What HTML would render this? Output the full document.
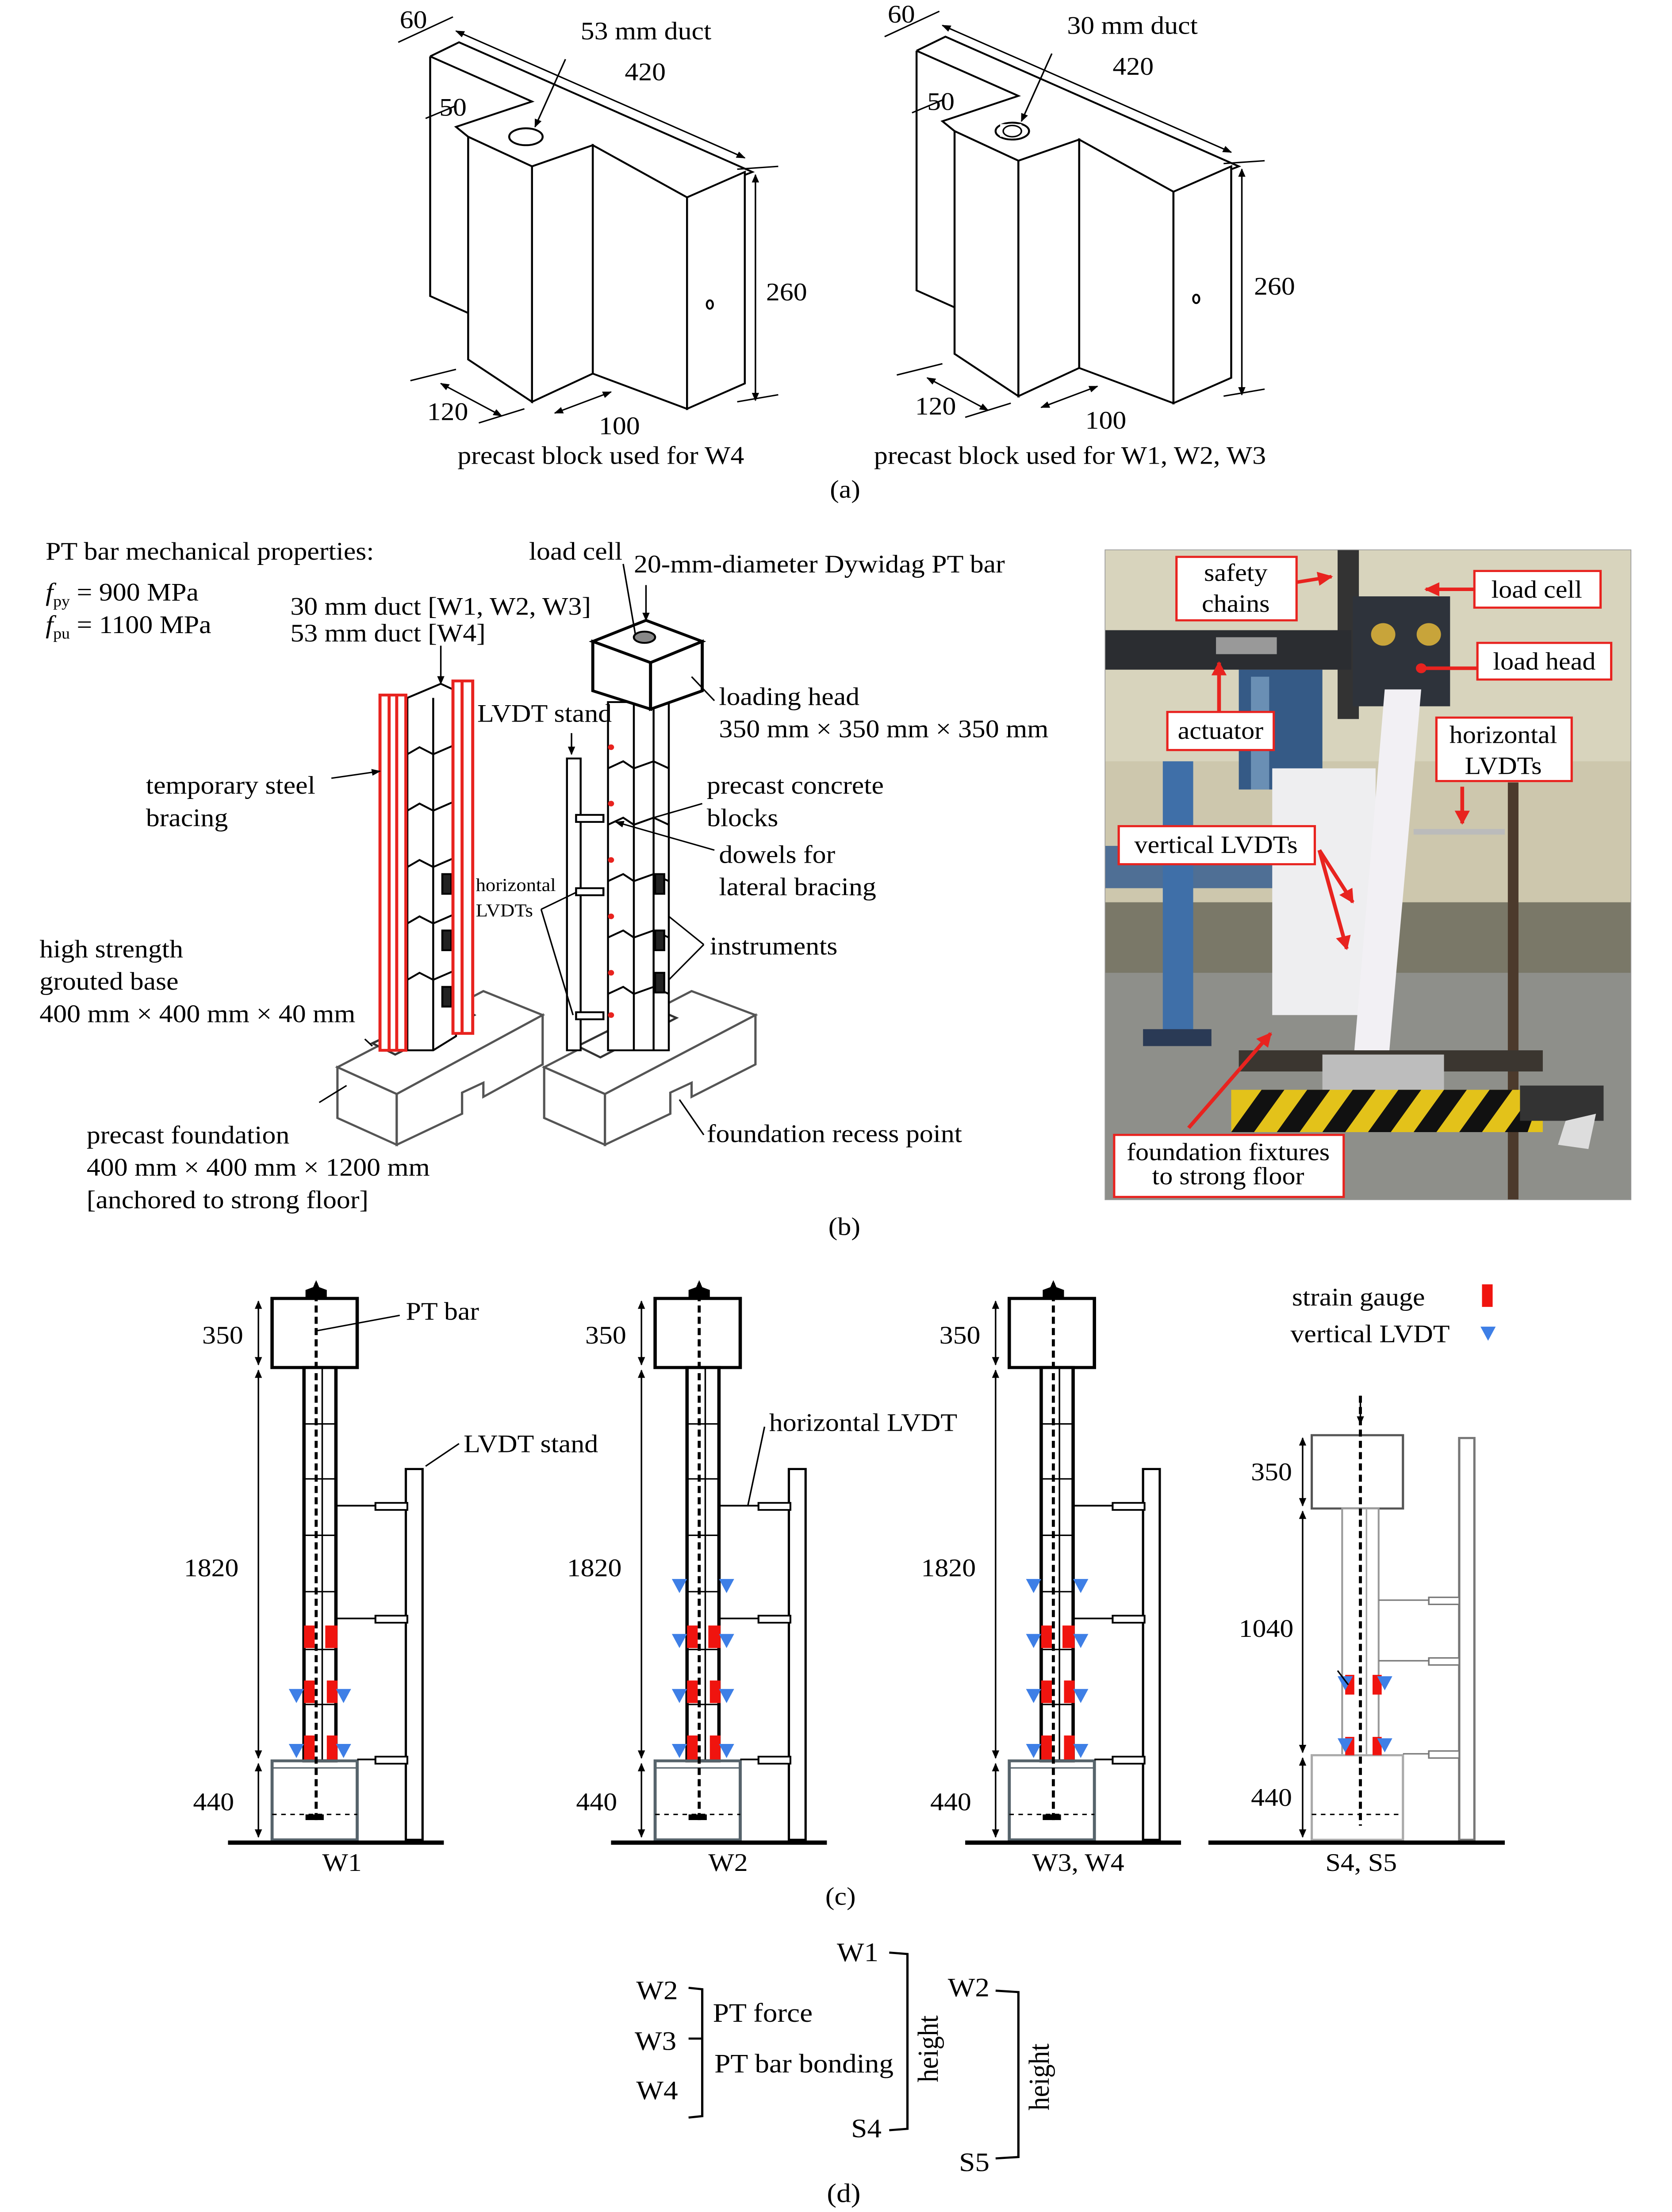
<!DOCTYPE html>
<html><head><meta charset="utf-8"><style>
html,body{margin:0;padding:0;background:#fff;width:100%;height:100%;overflow:hidden;}
svg.main{display:block;position:absolute;left:0;top:0;width:100vw;height:100vh;}
text{font-family:"Liberation Serif",serif;fill:#000;}
</style></head><body>
<svg class="main" viewBox="0 0 1100 1569" preserveAspectRatio="none" xmlns="http://www.w3.org/2000/svg">
<defs>
<marker id="ar" viewBox="0 0 10 10" refX="9" refY="5" markerWidth="6" markerHeight="6" orient="auto-start-reverse"><path d="M0,1 L10,5 L0,9 z" fill="#000"/></marker>
<marker id="rr" viewBox="0 0 10 10" refX="9" refY="5" markerWidth="4" markerHeight="4" orient="auto-start-reverse"><path d="M0,0 L10,5 L0,10 z" fill="#e8231f"/></marker>
</defs>
<rect width="1100" height="1569" fill="#fff"/>

<!-- ===== (a) ===== -->
<g id="blk" fill="none" stroke="#000" stroke-width="1.3">
<polyline points="283,40 302,30 495,122 452,140"/>
<polyline points="283,40 283,210 308,222"/>
<polyline points="283,40 350,72 300,90 308,97 350,118 390,103 452,140"/>
<polygon points="308,97 350,118 350,285 308,255" fill="#fff"/>
<polygon points="350,118 390,103 390,265 350,285" fill="#fff"/>
<polygon points="390,103 452,140 452,290 390,265" fill="#fff"/>
<polygon points="452,140 490,122 490,272 452,290" fill="#fff"/>
<ellipse cx="346" cy="97" rx="11" ry="6"/>
<ellipse cx="467" cy="216" rx="2" ry="3"/>
<line x1="300" y1="22" x2="490" y2="112" marker-start="url(#ar)" marker-end="url(#ar)" stroke-width="1"/>
<line x1="262" y1="30" x2="298" y2="12" stroke-width="1"/>
<line x1="280" y1="84" x2="300" y2="75" stroke-width="1"/>
<line x1="497" y1="124" x2="497" y2="284" marker-start="url(#ar)" marker-end="url(#ar)" stroke-width="1"/>
<line x1="485" y1="120" x2="512" y2="118" stroke-width="1"/>
<line x1="485" y1="285" x2="512" y2="280" stroke-width="1"/>
<line x1="270" y1="270" x2="300" y2="262" stroke-width="1"/>
<line x1="290" y1="272" x2="330" y2="295" marker-start="url(#ar)" marker-end="url(#ar)" stroke-width="1"/>
<line x1="315" y1="300" x2="345" y2="290" stroke-width="1"/>
<line x1="365" y1="293" x2="402" y2="278" marker-start="url(#ar)" marker-end="url(#ar)" stroke-width="1"/>
<line x1="372" y1="42" x2="352" y2="90" marker-end="url(#ar)" stroke-width="1"/>
</g>
<use href="#blk" transform="translate(320,-4)"/>
<rect x="658" y="88" width="14" height="9" fill="#fff"/>
<ellipse cx="666" cy="93" rx="6" ry="4" fill="none" stroke="#000"/>
<g font-size="18">
<text x="263" y="20">60</text><text x="382" y="28">53 mm duct</text><text x="411" y="57">420</text>
<text x="289" y="82">50</text><text x="504" y="213">260</text><text x="281" y="298">120</text><text x="394" y="308">100</text>
<text x="301" y="329">precast block used for W4</text>
<text x="584" y="16">60</text><text x="702" y="24">30 mm duct</text><text x="732" y="53">420</text>
<text x="610" y="78">50</text><text x="825" y="209">260</text><text x="602" y="294">120</text><text x="714" y="304">100</text>
<text x="575" y="329">precast block used for W1, W2, W3</text>
<text x="546" y="353">(a)</text>
</g>

<!-- ===== (b) drawing ===== -->
<g fill="#fff" stroke="#555" stroke-width="1.5">
<polygon points="222,757 318,703 357,720 261,776"/>
<polygon points="222,757 261,776 261,812 222,793"/>
<polygon points="261,776 357,720 357,755 318,778 318,768 304,775 304,790 261,812"/>
<polygon points="358,757 455,703 497,720 398,776"/>
<polygon points="358,757 398,776 398,812 358,793"/>
<polygon points="398,776 497,720 497,755 455,778 455,768 441,775 441,790 398,812"/>
<polygon points="245,740 300,712 312,720 260,748" stroke="#333"/>
<polygon points="380,742 430,715 445,722 395,750" stroke="#333"/>
</g>
<g stroke="#000" stroke-width="1.3" fill="#fff">
<polygon points="268,495 290,485 300,490 300,735 285,745 268,745"/>
<line x1="285" y1="495" x2="285" y2="745"/>
<polyline fill="none" points="268,535 276,530 285,535 300,528"/>
<polyline fill="none" points="268,575 276,570 285,575 300,568"/>
<polyline fill="none" points="268,615 276,610 285,615 300,608"/>
<polyline fill="none" points="268,655 276,650 285,655 300,648"/>
<polyline fill="none" points="268,695 276,690 285,695 300,688"/>
<rect x="291" y="620" width="6" height="14" fill="#222"/>
<rect x="291" y="660" width="6" height="14" fill="#222"/>
<rect x="291" y="700" width="6" height="14" fill="#222"/>
</g>
<g stroke="#e8231f" stroke-width="2" fill="#fff">
<rect x="250" y="493" width="17" height="252"/>
<line x1="256" y1="493" x2="256" y2="745"/><line x1="261" y1="493" x2="261" y2="745"/>
<rect x="298" y="483" width="13" height="250"/>
<line x1="304" y1="483" x2="304" y2="733"/>
</g>
<g stroke="#000" stroke-width="1.3" fill="#fff">
<rect x="400" y="498" width="40" height="247"/>
<line x1="417" y1="498" x2="417" y2="745"/><line x1="430" y1="498" x2="430" y2="745"/>
<polyline fill="none" points="400,545 410,540 417,545 430,540 440,545"/>
<polyline fill="none" points="400,585 410,580 417,585 430,580 440,585"/>
<polyline fill="none" points="400,625 410,620 417,625 430,620 440,625"/>
<polyline fill="none" points="400,665 410,660 417,665 430,660 440,665"/>
<polyline fill="none" points="400,705 410,700 417,705 430,700 440,705"/>
<polygon points="390,455 425,440 462,455 428,470" stroke-width="2"/>
<polygon points="390,455 428,470 428,503 390,490" stroke-width="2"/>
<polygon points="428,470 462,455 462,490 428,503" stroke-width="2"/>
<ellipse cx="424" cy="452" rx="7" ry="4" fill="#888"/>
<rect x="373" y="538" width="9" height="207"/>
<rect x="379" y="578" width="18" height="5"/><rect x="379" y="630" width="18" height="5"/><rect x="379" y="718" width="18" height="5"/>
<rect x="431" y="620" width="6" height="14" fill="#222"/><rect x="431" y="660" width="6" height="14" fill="#222"/><rect x="431" y="690" width="6" height="14" fill="#222"/>
</g>
<g fill="#e8231f"><circle cx="402" cy="530" r="2"/><circle cx="402" cy="570" r="2"/><circle cx="402" cy="610" r="2"/><circle cx="402" cy="650" r="2"/><circle cx="402" cy="690" r="2"/><circle cx="402" cy="720" r="2"/></g>
<g stroke="#000" stroke-width="1" fill="none">
<line x1="218" y1="552" x2="250" y2="547" marker-end="url(#ar)"/>
<line x1="290" y1="458" x2="290" y2="485" marker-end="url(#ar)"/>
<line x1="410" y1="400" x2="418" y2="450"/>
<line x1="425" y1="415" x2="425" y2="440" marker-end="url(#ar)"/>
<line x1="376" y1="520" x2="376" y2="535" marker-end="url(#ar)"/>
<line x1="470" y1="497" x2="455" y2="480"/>
<line x1="462" y1="570" x2="430" y2="580"/>
<line x1="470" y1="603" x2="405" y2="583" marker-end="url(#ar)"/>
<polyline points="463,670 440,650"/><polyline points="463,670 440,695"/>
<polyline points="356,645 379,633"/><polyline points="356,645 377,720"/>
<line x1="240" y1="737" x2="245" y2="742"/>
<line x1="210" y1="782" x2="228" y2="770"/>
<line x1="463" y1="805" x2="447" y2="780"/>
</g>
<g font-size="18">
<text x="30" y="397">PT bar mechanical properties:</text>
<text x="30" y="426"><tspan font-style="italic">f</tspan><tspan font-size="11" dy="4">py</tspan><tspan dy="-4"> = 900 MPa</tspan></text>
<text x="30" y="449"><tspan font-style="italic">f</tspan><tspan font-size="11" dy="4">pu</tspan><tspan dy="-4"> = 1100 MPa</tspan></text>
<text x="191" y="436">30 mm duct [W1, W2, W3]</text><text x="191" y="455">53 mm duct [W4]</text>
<text x="348" y="397">load cell</text><text x="417" y="406">20-mm-diameter Dywidag PT bar</text>
<text x="314" y="512">LVDT stand</text>
<text x="473" y="500">loading head</text><text x="473" y="523">350 mm × 350 mm × 350 mm</text>
<text x="96" y="563">temporary steel</text><text x="96" y="586">bracing</text>
<text x="465" y="563">precast concrete</text><text x="465" y="586">blocks</text>
<text x="473" y="612">dowels for</text><text x="473" y="635">lateral bracing</text>
<text x="467" y="677">instruments</text>
<text x="26" y="679">high strength</text><text x="26" y="702">grouted base</text><text x="26" y="725">400 mm × 400 mm × 40 mm</text>
<text x="57" y="811">precast foundation</text><text x="57" y="834">400 mm × 400 mm × 1200 mm</text><text x="57" y="857">[anchored to strong floor]</text>
<text x="465" y="810">foundation recess point</text>
<text x="545" y="876">(b)</text>
</g>
<text x="313" y="632" font-size="13">horizontal</text><text x="313" y="650" font-size="13">LVDTs</text>

<!-- ===== photo ===== -->
<svg x="727" y="390" width="346" height="461" viewBox="727 390 346 461">
<rect x="727" y="390" width="346" height="461" fill="#cdc7ad"/>
<rect x="727" y="390" width="346" height="150" fill="#d8d4bd"/>
<rect x="727" y="686" width="346" height="165" fill="#8e8f8a"/>
<rect x="727" y="640" width="346" height="50" fill="#7a7868"/>
<rect x="727" y="600" width="120" height="30" fill="#4f6f95"/>
<rect x="765" y="540" width="20" height="194" fill="#3f6fa8"/>
<rect x="752" y="730" width="45" height="12" fill="#2a3a55"/>
<rect x="815" y="475" width="55" height="85" fill="#355a86"/>
<rect x="823" y="480" width="12" height="80" fill="#6a8fb4"/>
<rect x="880" y="390" width="14" height="120" fill="#333"/>
<rect x="727" y="447" width="162" height="28" fill="#2b2d31"/>
<rect x="800" y="452" width="40" height="12" fill="#999"/>
<polygon points="890,423 954,423 954,501 890,501" fill="#2e333b"/>
<circle cx="910" cy="450" r="8" fill="#c8a43a"/><circle cx="940" cy="450" r="8" fill="#c8a43a"/>
<rect x="837" y="545" width="68" height="175" fill="#eeeef0"/>
<rect x="992" y="555" width="7" height="296" fill="#4c3a2c"/>
<polygon points="911,489 935,489 913,758 890,758" fill="#f2f0f4"/>
<rect x="930" y="588" width="60" height="4" fill="#bbb"/>
<rect x="815" y="745" width="200" height="15" fill="#3b3630"/>
<rect x="870" y="748" width="80" height="40" fill="#bdbdbd"/>
<polygon points="810,773 1015,773 1015,803 810,803" fill="#e3c21a"/>
<g fill="#111"><polygon points="830,773 845,773 825,803 810,803"/><polygon points="860,773 875,773 855,803 840,803"/><polygon points="890,773 905,773 885,803 870,803"/><polygon points="920,773 935,773 915,803 900,803"/><polygon points="950,773 965,773 945,803 930,803"/><polygon points="980,773 995,773 975,803 960,803"/><polygon points="1010,773 1015,773 1005,803 990,803"/></g>
<rect x="1000" y="770" width="55" height="25" fill="#333"/>
<polygon points="1030,795 1050,790 1045,815 1025,812" fill="#ddd"/>
</svg>
<rect x="727" y="390" width="346" height="461" fill="none" stroke="#999" stroke-width="0.5"/>
<g fill="#fff" stroke="#e8231f" stroke-width="1.5">
<rect x="774" y="395" width="79" height="45"/><rect x="970" y="405" width="83" height="26"/>
<rect x="972" y="456" width="88" height="26"/><rect x="768" y="505" width="70" height="27"/>
<rect x="945" y="509" width="89" height="45"/><rect x="736" y="586" width="129" height="27"/>
<rect x="733" y="805" width="151" height="44"/>
</g>
<g stroke="#e8231f" stroke-width="2.5" fill="none">
<line x1="853" y1="413" x2="876" y2="409" marker-end="url(#rr)"/>
<line x1="970" y1="418" x2="938" y2="418" marker-end="url(#rr)"/>
<line x1="972" y1="474" x2="937" y2="474"/>
<line x1="802" y1="505" x2="802" y2="470" marker-end="url(#rr)"/>
<line x1="962" y1="558" x2="962" y2="584" marker-end="url(#rr)"/>
<line x1="868" y1="603" x2="890" y2="640" marker-end="url(#rr)"/>
<line x1="868" y1="603" x2="886" y2="673" marker-end="url(#rr)"/>
<line x1="782" y1="800" x2="836" y2="733" marker-end="url(#rr)"/>
</g>
<circle cx="935" cy="474" r="3.5" fill="#e8231f"/>
<g font-size="17.5" text-anchor="middle">
<text x="813" y="412">safety</text><text x="813" y="434">chains</text>
<text x="1011" y="424">load cell</text><text x="1016" y="475">load head</text>
<text x="803" y="524">actuator</text>
<text x="989" y="527">horizontal</text><text x="989" y="549">LVDTs</text>
<text x="800" y="605">vertical LVDTs</text>
<text x="808" y="823">foundation fixtures</text><text x="808" y="840">to strong floor</text>
</g>

<!-- ===== (c) ===== -->
<g id="w1">
<g fill="none" stroke="#000" stroke-width="2.2">
<rect x="179" y="921" width="56" height="49" fill="#fff"/>
<rect x="200" y="970" width="21" height="279" fill="#fff"/>
</g>
<g stroke="#000" stroke-width="1" fill="none">
<line x1="212" y1="970" x2="212" y2="1249"/>
<line x1="200" y1="1010" x2="221" y2="1010"/><line x1="200" y1="1049" x2="221" y2="1049"/><line x1="200" y1="1089" x2="221" y2="1089"/>
<line x1="200" y1="1129" x2="221" y2="1129"/><line x1="200" y1="1170" x2="221" y2="1170"/><line x1="200" y1="1209" x2="221" y2="1209"/>
</g>
<rect x="179" y="1249" width="56" height="56" fill="none" stroke="#56636b" stroke-width="2"/>
<line x1="179" y1="1254" x2="235" y2="1254" stroke="#56636b"/>
<line x1="179" y1="1287" x2="235" y2="1287" stroke="#000" stroke-dasharray="3,3"/>
<rect x="201" y="1287" width="12" height="4" fill="#000"/>
<polygon points="201,921 215,921 215,915 210,913 208,908 206,913 201,915" fill="#000"/>
<line x1="208" y1="910" x2="208" y2="1292" stroke="#000" stroke-width="2" stroke-dasharray="5,3"/>
<rect x="267" y="1042" width="11" height="263" fill="#fff" stroke="#000" stroke-width="1.5"/>
<g stroke="#000" stroke-width="1.2" fill="#fff">
<line x1="221" y1="1068" x2="247" y2="1068"/><rect x="247" y="1066" width="21" height="5"/>
<line x1="221" y1="1148" x2="247" y2="1148"/><rect x="247" y="1146" width="21" height="5"/>
<line x1="235" y1="1248" x2="247" y2="1248"/><rect x="247" y="1246" width="21" height="5"/>
</g>
<g fill="#f0140f">
<rect x="200" y="1153" width="7" height="16"/><rect x="214" y="1153" width="8" height="16"/>
<rect x="200" y="1192" width="7" height="16"/><rect x="215" y="1192" width="7" height="16"/>
<rect x="200" y="1231" width="7" height="17"/><rect x="215" y="1231" width="7" height="17"/>
</g>
<g stroke="#000" stroke-width="1" fill="none">
<line x1="170" y1="923" x2="170" y2="968" marker-start="url(#ar)" marker-end="url(#ar)"/>
<line x1="170" y1="972" x2="170" y2="1247" marker-start="url(#ar)" marker-end="url(#ar)"/>
<line x1="170" y1="1251" x2="170" y2="1303" marker-start="url(#ar)" marker-end="url(#ar)"/>
</g>
<line x1="150" y1="1307" x2="292" y2="1307" stroke="#000" stroke-width="3"/>
<text x="133" y="953" font-size="18">350</text><text x="121" y="1118" font-size="18">1820</text><text x="127" y="1284" font-size="18">440</text>
</g>
<g fill="#3e7fe6">
<polygon points="190,1198 200,1198 195,1208"/><polygon points="221,1198 231,1198 226,1208"/>
<polygon points="190,1237 200,1237 195,1247"/><polygon points="221,1237 231,1237 226,1247"/>
</g>
<use href="#w1" transform="translate(252,0)"/>
<use href="#w1" transform="translate(485,0)"/>
<g fill="#3e7fe6">
<polygon points="442,1120 452,1120 447,1130"/><polygon points="473,1120 483,1120 478,1130"/>
<polygon points="442,1159 452,1159 447,1169"/><polygon points="473,1159 483,1159 478,1169"/>
<polygon points="442,1198 452,1198 447,1208"/><polygon points="473,1198 483,1198 478,1208"/>
<polygon points="442,1237 452,1237 447,1247"/><polygon points="473,1237 483,1237 478,1247"/>
<polygon points="675,1120 685,1120 680,1130"/><polygon points="706,1120 716,1120 711,1130"/>
<polygon points="675,1159 685,1159 680,1169"/><polygon points="706,1159 716,1159 711,1169"/>
<polygon points="675,1198 685,1198 680,1208"/><polygon points="706,1198 716,1198 711,1208"/>
<polygon points="675,1237 685,1237 680,1247"/><polygon points="706,1237 716,1237 711,1247"/>
</g>
<g>
<rect x="863" y="1018" width="60" height="52" fill="#fff" stroke="#555" stroke-width="1.5"/>
<rect x="883" y="1070" width="24" height="175" fill="#fff" stroke="#999" stroke-width="1.2"/>
<line x1="899" y1="1070" x2="899" y2="1245" stroke="#aaa"/>
<rect x="863" y="1245" width="60" height="60" fill="none" stroke="#aaa" stroke-width="1.5"/>
<line x1="863" y1="1287" x2="923" y2="1287" stroke="#000" stroke-dasharray="3,3"/>
<line x1="895" y1="990" x2="895" y2="1295" stroke="#000" stroke-width="2" stroke-dasharray="5,3"/>
<line x1="895" y1="990" x2="895" y2="1010" stroke="#000" marker-end="url(#ar)"/>
<rect x="960" y="1020" width="10" height="285" fill="#fff" stroke="#777" stroke-width="1.5"/>
<g stroke="#777" fill="#fff"><line x1="907" y1="1135" x2="940" y2="1135"/><rect x="940" y="1133" width="20" height="5"/>
<line x1="907" y1="1178" x2="940" y2="1178"/><rect x="940" y="1176" width="20" height="5"/>
<line x1="923" y1="1244" x2="940" y2="1244"/><rect x="940" y="1242" width="20" height="5"/></g>
<g fill="#f0140f"><rect x="885" y="1188" width="6" height="14"/><rect x="903" y="1188" width="6" height="14"/><rect x="885" y="1232" width="6" height="13"/><rect x="903" y="1232" width="6" height="13"/></g>
<g fill="#3e7fe6"><polygon points="880,1189 890,1189 885,1199"/><polygon points="906,1189 916,1189 911,1199"/><polygon points="880,1233 890,1233 885,1243"/><polygon points="906,1233 916,1233 911,1243"/></g>
<g stroke="#000" stroke-width="1" fill="none">
<line x1="857" y1="1020" x2="857" y2="1068" marker-start="url(#ar)" marker-end="url(#ar)"/>
<line x1="857" y1="1072" x2="857" y2="1243" marker-start="url(#ar)" marker-end="url(#ar)"/>
<line x1="857" y1="1247" x2="857" y2="1303" marker-start="url(#ar)" marker-end="url(#ar)"/>
<line x1="880" y1="1185" x2="887" y2="1195"/>
</g>
<line x1="795" y1="1307" x2="990" y2="1307" stroke="#000" stroke-width="3"/>
</g>
<g stroke="#000" stroke-width="1" fill="none">
<line x1="263" y1="933" x2="208" y2="944"/>
<line x1="302" y1="1024" x2="280" y2="1040"/>
<line x1="503" y1="1012" x2="492" y2="1068"/>
</g>
<g font-size="18">
<text x="267" y="936">PT bar</text><text x="305" y="1030">LVDT stand</text>
<text x="506" y="1015">horizontal LVDT</text>
<text x="823" y="1050">350</text><text x="815" y="1161">1040</text><text x="823" y="1281">440</text>
<text x="212" y="1327">W1</text><text x="466" y="1327">W2</text><text x="679" y="1327">W3, W4</text><text x="872" y="1327">S4, S5</text>
<text x="543" y="1351">(c)</text>
<text x="850" y="926">strain gauge</text><text x="849" y="952">vertical LVDT</text>
</g>
<rect x="975" y="911" width="7" height="16" fill="#f0140f"/>
<polygon points="974,941 984,941 979,951" fill="#3e7fe6"/>

<!-- ===== (d) ===== -->
<g fill="none" stroke="#000" stroke-width="1.5">
<polyline points="585,1385 597,1386 597,1510 585,1511"/>
<polyline points="453,1410 462,1411 462,1501 453,1502"/>
<line x1="453" y1="1446" x2="462" y2="1446"/>
<polyline points="655,1412 670,1413 670,1530 655,1531"/>
</g>
<g font-size="19" text-anchor="end">
<text x="578" y="1391">W1</text><text x="446" y="1418">W2</text><text x="445" y="1454">W3</text><text x="446" y="1489">W4</text>
<text x="580" y="1516">S4</text><text x="651" y="1416">W2</text><text x="651" y="1540">S5</text>
</g>
<g font-size="19">
<text x="469" y="1434">PT force</text><text x="470" y="1470">PT bar bonding</text>
<text transform="translate(617,1477) rotate(-90)">height</text>
<text transform="translate(690,1497) rotate(-90)">height</text>
<text x="544" y="1562">(d)</text>
</g>
</svg>
</body></html>
